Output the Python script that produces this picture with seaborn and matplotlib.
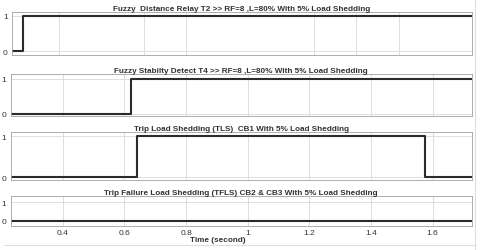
import numpy as np
import pandas as pd
import matplotlib
matplotlib.use("Agg")
import matplotlib.pyplot as plt
import seaborn as sns
from matplotlib.lines import Line2D

sns.set_theme(style="white")
plt.rcParams['font.family'] = ['Liberation Sans', 'DejaVu Sans']

# Data (step signals)
titles = [
    "Fuzzy  Distance Relay T2 >> RF=8 ,L=80% With 5% Load Shedding",
    "Fuzzy Stabilty Detect T4 >> RF=8 ,L=80% With 5% Load Shedding",
    "Trip Load Shedding (TLS)  CB1 With 5% Load Shedding",
    "Trip Failure Load Shedding (TFLS) CB2 & CB3 With 5% Load Shedding",
]
t1 = [0.18, 0.232, 2.345]
s1 = [0, 1, 1]
t2 = [0.231, 0.621, 1.727]
s2 = [0, 1, 1]
t3 = [0.231, 0.641, 1.574, 1.727]
s3 = [0, 1, 0, 0]
t4 = [0.231, 1.727]
s4 = [0, 0]
xticks_main = [0.4, 0.6, 0.8, 1.0, 1.2, 1.4, 1.6]
xtick_labels = ["0.4", "0.6", "0.8", "1", "1.2", "1.4", "1.6"]
xticks_top = [0.4, 0.8, 1.0, 1.6, 1.8, 2.0]

series = [(t1, s1), (t2, s2), (t3, s3), (t4, s4)]
xlims = [(0.18, 2.345), (0.231, 1.727), (0.231, 1.727), (0.231, 1.727)]
ylims = [(-0.11, 1.11), (-0.07, 1.13), (-0.07, 1.1), (-0.26, 1.32)]
boxes = [  # left, bottom, width, height in figure fraction
    (0.025, 0.777, 0.958, 0.171),
    (0.022, 0.534, 0.961, 0.167),
    (0.022, 0.279, 0.961, 0.191),
    (0.022, 0.096, 0.961, 0.119),
]

W, H = 480, 251
fig = plt.figure(figsize=(W / 100, H / 100), dpi=100)
fig.patch.set_facecolor("white")

grid_c = "#d9d9d9"
spine_c = "#a0a0a0"
text_c = "#333333"

for i, ((t, s), box) in enumerate(zip(series, boxes)):
    ax = fig.add_axes(box)
    df = pd.DataFrame({"t": t, "s": s})
    sns.lineplot(data=df, x="t", y="s", ax=ax, drawstyle="steps-post",
                 color="#2b2b2b", linewidth=1.5)
    ax.set_xlim(*xlims[i])
    ax.set_ylim(*ylims[i])
    ax.set_yticks([0, 1])
    ax.set_yticklabels(["0", "1"])
    if i == 0:
        ax.set_xticks(xticks_top)
        ax.set_xticklabels([])
    else:
        ax.set_xticks(xticks_main)
        if i == 3:
            ax.set_xticklabels(xtick_labels)
        else:
            ax.set_xticklabels([])
    ax.grid(True, color=grid_c, linewidth=0.6)
    ax.tick_params(axis="both", direction="in", length=3, width=0.6,
                   colors=spine_c, labelcolor=text_c, labelsize=6, pad=2)
    ax.tick_params(axis="y", pad=3)
    for sp in ax.spines.values():
        sp.set_visible(True)
        sp.set_color(spine_c)
        sp.set_linewidth(0.6)
    ax.set_xlabel("")
    ax.set_ylabel("")
    ax.set_title(titles[i], fontsize=5.9, fontweight="bold", color=text_c, pad=1.5)

fig.text(218 / W, 1 - 241 / H, "Time (second)", ha="center", va="center",
         fontsize=5.9, fontweight="bold", color=text_c)

# frame lines of the original screenshot
fig.add_artist(Line2D([475 / W, 475 / W], [0, 1], color="#dddddd", linewidth=0.8,
                      transform=fig.transFigure))
fig.add_artist(Line2D([4 / W, 475 / W], [1 - 246 / H, 1 - 246 / H], color="#dddddd",
                      linewidth=0.8, transform=fig.transFigure))

fig.savefig("out.png", dpi=100, facecolor="white")
